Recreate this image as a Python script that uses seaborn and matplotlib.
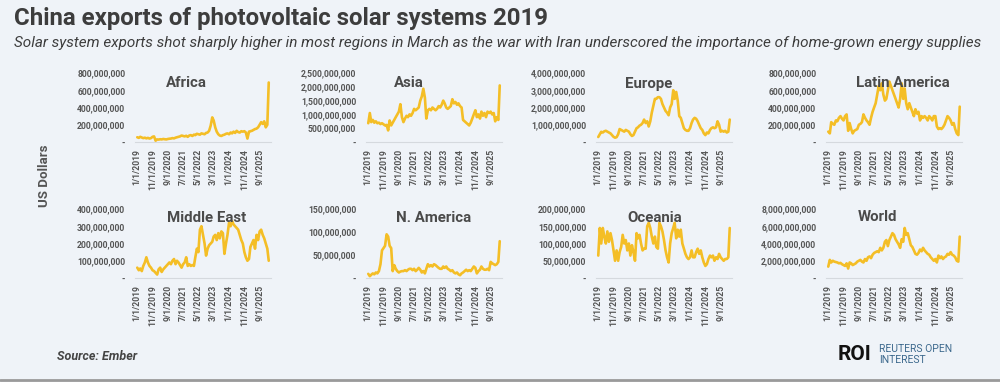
import numpy as np
import pandas as pd
import matplotlib
matplotlib.use("Agg")
import matplotlib.pyplot as plt
import matplotlib.ticker as mticker
import seaborn as sns

# monthly exports, US$ millions, Jan 2019 - Mar 2026
months = pd.date_range("2019-01-01", periods=87, freq="MS")

africa = [55, 48, 60, 52, 45, 50, 42, 48, 40, 45, 60, 65,
          15, 30, 28, 32, 30, 35, 32, 30, 35, 38, 40, 45,
          42, 50, 55, 60, 65, 75, 70, 65, 72, 60, 75, 80,
          70, 85, 80, 95, 90, 85, 100, 95, 90, 105, 110, 130,
          190, 285, 250, 170, 120, 90, 75, 70, 80, 85, 95, 100,
          90, 110, 100, 120, 105, 130, 115, 110, 125, 120, 125, 110,
          40, 120, 125, 130, 140, 150, 155, 170, 200, 230, 210, 240,
          170, 200, 690]
asia = [680, 1050, 720, 800, 700, 750, 680, 700, 650, 680, 640, 600,
        620, 420, 780, 600, 700, 800, 900, 1000, 1100, 1370, 900, 720,
        850, 950, 900, 1000, 950, 1050, 1200, 1150, 1200, 1250, 1500, 1650,
        1930, 1600, 850, 1150, 1200, 1150, 1250, 1200, 1150, 1200, 1300, 1250,
        1350, 1500, 1400, 1250, 1200, 1250, 1300, 1550, 1400, 1450, 1350, 1400,
        1300, 1250, 800, 750, 700, 650, 600, 700, 850, 1000, 1150, 900,
        1000, 850, 1100, 950, 1050, 900, 1100, 1050, 1100, 1000, 1050, 750,
        900, 800, 2050]
europe = [290, 450, 590, 550, 620, 650, 600, 550, 500, 400, 300, 250,
          280, 450, 750, 700, 650, 600, 700, 650, 600, 450, 350, 400,
          600, 800, 850, 950, 1000, 1100, 1300, 1100, 1200, 900, 1200, 1700,
          2100, 2500, 2500, 2600, 2600, 2500, 2200, 2000, 1800, 1700, 1550, 2000,
          2200, 3000, 2500, 2900, 2400, 1500, 1400, 1100, 800, 700, 650, 650,
          800, 1100, 1300, 1400, 1350, 1200, 1000, 800, 700, 500, 400, 550,
          500, 700, 800, 850, 800, 850, 1200, 1000, 600, 650, 600, 650,
          550, 600, 1300]
latin_america = [120, 100, 230, 210, 200, 250, 240, 280, 300, 270, 250, 300,
                 320, 130, 220, 150, 100, 130, 140, 150, 200, 210, 230, 320,
                 280, 250, 230, 200, 280, 350, 400, 450, 550, 650, 600, 680,
                 550, 480, 500, 600, 700, 650, 600, 550, 500, 450, 400, 500,
                 680, 500, 620, 450, 380, 450, 400, 350, 300, 380, 330, 350,
                 250, 300, 280, 300, 280, 250, 300, 280, 250, 300, 300, 180,
                 150, 160, 150, 170, 200, 250, 300, 280, 250, 200, 220, 150,
                 100, 80, 410]
middle_east = [60, 45, 55, 40, 70, 90, 120, 90, 70, 60, 45, 40,
               30, 20, 50, 60, 35, 50, 60, 70, 80, 90, 80, 100,
               110, 80, 100, 90, 75, 60, 80, 90, 120, 70, 80, 70,
               75, 70, 120, 170, 150, 280, 300, 250, 200, 130, 170, 190,
               200, 210, 240, 250, 220, 260, 230, 270, 260, 140, 200, 250,
               320, 300, 330, 310, 300, 290, 280, 250, 220, 200, 150, 120,
               100, 110, 180, 200, 220, 170, 250, 220, 270, 280, 250, 230,
               200, 170, 100]
n_america = [9, 4, 7, 10, 8, 12, 10, 15, 30, 60, 65, 70,
             95, 90, 70, 65, 15, 28, 20, 15, 12, 14, 15, 15,
             17, 15, 18, 20, 20, 17, 20, 15, 18, 22, 18, 12,
             15, 10, 20, 30, 25, 28, 25, 30, 28, 25, 22, 20,
             20, 25, 22, 25, 20, 18, 15, 17, 12, 10, 12, 8,
             6, 10, 12, 15, 18, 15, 17, 15, 20, 25, 22, 10,
             15, 18, 25, 20, 18, 18, 20, 17, 35, 32, 30, 28,
             30, 35, 80]
oceania = [65, 145, 100, 145, 120, 100, 135, 105, 130, 110, 80, 50,
           80, 50, 75, 90, 125, 100, 110, 80, 100, 65, 95, 75,
           50, 130, 115, 125, 100, 80, 85, 85, 150, 160, 145, 120,
           100, 120, 90, 85, 160, 150, 135, 110, 80, 60, 45, 100,
           130, 145, 160, 115, 140, 120, 140, 100, 85, 70, 60, 55,
           60, 80, 60, 60, 75, 85, 70, 80, 60, 45, 35, 40,
           55, 65, 60, 65, 50, 60, 55, 70, 60, 55, 50, 55,
           55, 60, 145]
world = [1320, 2100, 1800, 2000, 1900, 1850, 1800, 1700, 1750, 1600, 1500, 1400,
         1700, 1100, 1800, 1700, 1500, 1600, 1700, 1900, 2000, 2100, 1900, 1800,
         2200, 2000, 2400, 2500, 2300, 2700, 2900, 3000, 3100, 3000, 3500, 3200,
         3500, 4200, 4400, 3700, 4400, 4800, 5200, 5000, 4500, 4200, 3900, 3500,
         4500, 4200, 5800, 5000, 5200, 4500, 3800, 3600, 3200, 2800, 2700, 2900,
         3300, 3100, 3500, 3200, 3000, 2800, 2700, 2400, 2200, 2000, 2200, 1800,
         2600, 2300, 2500, 2200, 2400, 2500, 2800, 2700, 3000, 2700, 2600, 2400,
         2000, 1900, 4800]

regions = ["Africa", "Asia", "Europe", "Latin America",
           "Middle East", "N. America", "Oceania", "World"]
series = [africa, asia, europe, latin_america, middle_east, n_america, oceania, world]
y_max = [800, 2500, 4000, 800, 400, 150, 200, 8000]
y_step = [200, 500, 1000, 200, 100, 50, 50, 2000]

BG = "#EFF3F8"
GOLD = "#F4BE26"
TXT = "#555555"

sns.set_theme(style="white", rc={"axes.facecolor": BG, "figure.facecolor": BG})
plt.rcParams["font.family"] = ["Roboto", "DejaVu Sans"]

fig = plt.figure(figsize=(10, 3.82), dpi=100)
W, H = 1000, 382

# panel layout in pixels
lefts = [135, 366, 596, 826]
tops = [73, 209]
ax_w, ax_h = 136, 69
title_pos = [(186, 83), (409, 83), (649, 84), (903, 83),
             (207, 218), (434, 218), (655, 218), (877, 217)]

fmt = mticker.FuncFormatter(lambda v, p: "-" if v == 0 else f"{v:,.0f}")

for i, (name, vals) in enumerate(zip(regions, series)):
    r, c = divmod(i, 4)
    ax = fig.add_axes([lefts[c] / W, 1 - (tops[r] + ax_h) / H, ax_w / W, ax_h / H])
    df = pd.DataFrame({"month": months, "usd": np.array(vals) * 1e6})
    sns.lineplot(data=df, x="month", y="usd", ax=ax, color=GOLD, linewidth=1.9)
    ax.set_ylim(0, y_max[i] * 1e6)
    ax.set_yticks(np.arange(0, y_max[i] + 1, y_step[i]) * 1e6)
    ax.yaxis.set_major_formatter(fmt)
    ax.set_xlim(months[0] - pd.Timedelta(days=45), months[-1] + pd.Timedelta(days=45))
    ax.set_xticks(months[::10])
    ax.set_xticklabels([f"{d.month}/1/{d.year}" for d in months[::10]], rotation=90)
    ax.tick_params(axis="both", labelsize=6.2, colors=TXT, length=0)
    ax.tick_params(axis="y", pad=7)
    ax.tick_params(axis="x", pad=5)
    for lab in ax.get_xticklabels() + ax.get_yticklabels():
        lab.set_fontweight("bold")
    ax.set_xlabel("")
    ax.set_ylabel("")
    for s in ["top", "right", "left"]:
        ax.spines[s].set_visible(False)
    ax.spines["bottom"].set_color("#D5D9DE")
    ax.spines["bottom"].set_linewidth(0.8)
    tx, ty = title_pos[i]
    fig.text(tx / W, 1 - ty / H, name, ha="center", va="center",
             fontsize=10.8, fontweight="bold", color="#4A4A4A")

fig.text(14 / W, 1 - 18 / H, "China exports of photovoltaic solar systems 2019",
         ha="left", va="center", fontsize=17.3, fontweight="bold", color="#3D3D3D")
fig.text(14 / W, 1 - 43 / H,
         "Solar system exports shot sharply higher in most regions in March as the war "
         "with Iran underscored the importance of home-grown energy supplies",
         ha="left", va="center", fontsize=11, style="italic", color="#3D3D3D")
fig.text(45 / W, 1 - 176 / H, "US Dollars", rotation=90, ha="center", va="center",
         fontsize=9.5, fontweight="bold", color="#555555")
fig.text(57 / W, 1 - 356 / H, "Source: Ember", ha="left", va="center",
         fontsize=9, fontweight="bold", style="italic", color="#444444")
fig.text(838 / W, 1 - 355 / H, "ROI", ha="left", va="center",
         fontsize=15, fontweight="bold", color="#111111")
fig.text(879 / W, 1 - 349 / H, "REUTERS OPEN", ha="left", va="center",
         fontsize=7.5, color="#3E6A8E")
fig.text(879 / W, 1 - 360 / H, "INTEREST", ha="left", va="center",
         fontsize=7.5, color="#3E6A8E")
fig.add_artist(plt.Line2D([0, 1], [1 - 380 / H, 1 - 380 / H], color="#9A9A9A",
                          linewidth=2, transform=fig.transFigure))

fig.savefig("out.png", dpi=100, facecolor=BG)
